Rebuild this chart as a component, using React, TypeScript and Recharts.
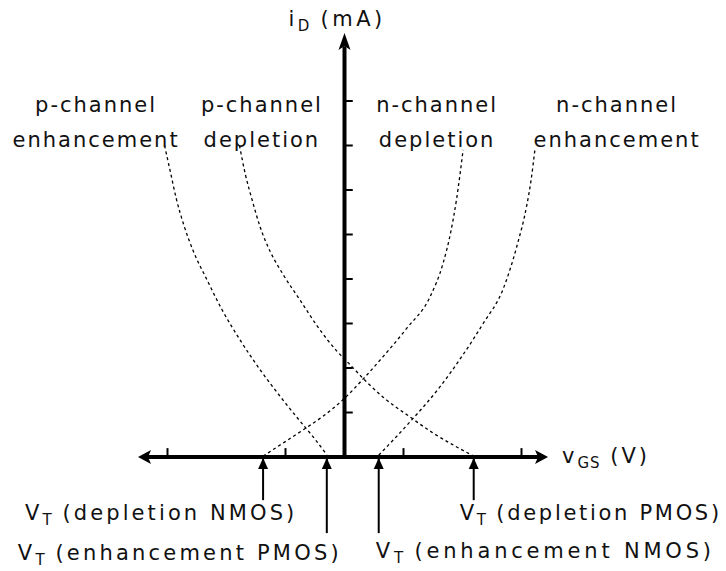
import React from 'react';
import { ComposedChart, Line, XAxis, YAxis, ReferenceLine, ReferenceDot } from 'recharts';

// ---------- data (vGS in V, iD in mA) ----------
const pEnhVgs = [-3.05, -2.95, -2.85, -2.72, -2.57, -2.33, -2.08, -1.77, -1.43, -1.09, -0.75, -0.5, -0.3];
const pEnhId = [7.0, 6.4, 5.8, 5.2, 4.65, 3.98, 3.32, 2.63, 1.96, 1.36, 0.8, 0.4, 0.05];

const pDepVgs = [-1.78, -1.68, -1.56, -1.43, -1.26, -1.04, -0.75, -0.45, -0.13, 0.09, 0.38, 0.65, 1.11, 1.5, 1.91, 2.19];
const pDepId = [7.0, 6.35, 5.75, 5.17, 4.62, 4.1, 3.52, 2.92, 2.38, 2.08, 1.68, 1.35, 0.9, 0.54, 0.22, 0.02];

const nDepVgs = [-1.38, -1.01, -0.7, -0.36, 0.01, 0.3, 0.65, 1.06, 1.45, 1.67, 1.8, 1.9, 2.01];
const nDepId = [0.02, 0.34, 0.61, 0.92, 1.33, 1.73, 2.25, 2.9, 3.6, 4.35, 5.05, 5.8, 6.9];

const nEnhVgs = [0.58, 1.11, 1.62, 2.01, 2.35, 2.69, 2.92, 3.09, 3.16, 3.23];
const nEnhId = [0.04, 0.79, 1.58, 2.3, 3.0, 3.78, 4.73, 5.66, 6.2, 6.94];

const curveNames = ['p-channel enhancement', 'p-channel depletion', 'n-channel depletion', 'n-channel enhancement'];
const curveLabelLines = [
  ['p-channel', 'enhancement'],
  ['p-channel', 'depletion'],
  ['n-channel', 'depletion'],
  ['n-channel', 'enhancement'],
];

const xTicks = [-3, -1, 1, 3];
const yTicks = [1, 2, 3, 4, 5, 6, 7, 8];

const vtValues = [-1.38, -0.3, 0.58, 2.19];
const vtLabels = ['(depletion NMOS)', '(enhancement PMOS)', '(enhancement NMOS)', '(depletion PMOS)'];

const xAxisTitle = ['v', 'GS', ' (V)'];
const yAxisTitle = ['i', 'D', ' (mA)'];

// ---------- layout ----------
const W = 726;
const H = 571;
const ORIGIN = { x: 344.5, y: 457 };
const UNIT = { x: 59, y: 44.5 };
const X_DOMAIN = [-ORIGIN.x / UNIT.x, (W - ORIGIN.x) / UNIT.x];
const Y_DOMAIN = [-(H - ORIGIN.y) / UNIT.y, ORIGIN.y / UNIT.y];

const AXIS_LEFT = -3.5;
const AXIS_RIGHT = 3.45;
const AXIS_TOP = 9.53;

const curveLabelPos = [
  { x: -4.21, y: 7.75 },
  { x: -1.4, y: 7.75 },
  { x: 1.57, y: 7.75 },
  { x: 4.62, y: 7.75 },
];
// VT arrow: line depth (data units), label offset (px), letter spacing
const vtLayout = [
  { depth: -0.97, dx: -238, dy: 63, ls: 3.1 },
  { depth: -1.71, dx: -309, dy: 103, ls: 3.2 },
  { depth: -1.71, dx: -3, dy: 101, ls: 3.8 },
  { depth: -0.97, dx: -14, dy: 63, ls: 2.7 },
];

const FONT = {
  fontFamily: '"DejaVu Sans", sans-serif',
  fontSize: 21,
  letterSpacing: 2,
  fill: '#111',
};

const toPoints = (xs: number[], ys: number[]) =>
  xs.map((x, i) => ({ x, y: ys[i] })).sort((a, b) => a.x - b.x);

const curves = [
  toPoints(pEnhVgs, pEnhId),
  toPoints(pDepVgs, pDepId),
  toPoints(nDepVgs, nDepId),
  toPoints(nEnhVgs, nEnhId),
];

const multiLineText = (lines: string[]) => (p: any) => (
  <text x={p.cx} y={p.cy} textAnchor="middle" {...FONT}>
    {lines.map((l, i) => (
      <tspan key={i} x={p.cx} dy={i === 0 ? 0 : 35}>
        {l}
      </tspan>
    ))}
  </text>
);

const subText = (parts: string[], dx: number, dy: number, ls: number) => (p: any) => (
  <text x={p.cx + dx} y={p.cy + dy} textAnchor="start" {...FONT} letterSpacing={ls}>
    <tspan>{parts[0]}</tspan>
    <tspan dy={5} fontSize={15} letterSpacing={1}>
      {parts[1]}
    </tspan>
    <tspan dy={-5}>{parts[2]}</tspan>
  </text>
);

const upHead = (p: any) => (
  <polygon
    points={`${p.cx},${p.cy + 1} ${p.cx - 5},${p.cy + 12} ${p.cx + 5},${p.cy + 12}`}
    fill="#000"
  />
);
const leftHead = (p: any) => (
  <polygon points={`${p.cx},${p.cy} ${p.cx + 13},${p.cy - 7} ${p.cx + 10},${p.cy} ${p.cx + 13},${p.cy + 7}`} fill="#000" />
);
const rightHead = (p: any) => (
  <polygon points={`${p.cx},${p.cy} ${p.cx - 13},${p.cy - 7} ${p.cx - 10},${p.cy} ${p.cx - 13},${p.cy + 7}`} fill="#000" />
);
const topHead = (p: any) => (
  <polygon points={`${p.cx},${p.cy} ${p.cx - 6},${p.cy + 17} ${p.cx},${p.cy + 13} ${p.cx + 6},${p.cy + 17}`} fill="#000" />
);

export default function App() {
  return (
    <div style={{ position: 'absolute', left: 0, top: 0, width: W, height: H, background: '#fff' }}>
      <ComposedChart width={W} height={H} margin={{ top: 0, right: 0, bottom: 0, left: 0 }}>
        <XAxis hide type="number" dataKey="x" domain={X_DOMAIN} allowDataOverflow />
        <YAxis hide type="number" dataKey="y" domain={Y_DOMAIN} allowDataOverflow />

        {curves.map((data, i) => (
          <Line
            key={curveNames[i]}
            name={curveNames[i]}
            data={data}
            dataKey="y"
            type="monotone"
            stroke="#000"
            strokeWidth={1.3}
            strokeDasharray="3 3"
            dot={false}
            activeDot={false}
            isAnimationActive={false}
          />
        ))}

        {/* axes */}
        <ReferenceLine
          segment={[{ x: AXIS_LEFT + 0.15, y: 0 }, { x: AXIS_RIGHT - 0.15, y: 0 }]}
          stroke="#000"
          strokeWidth={4}
          ifOverflow="visible"
        />
        <ReferenceLine
          segment={[{ x: 0, y: 0 }, { x: 0, y: AXIS_TOP - 0.3 }]}
          stroke="#000"
          strokeWidth={4}
          ifOverflow="visible"
        />
        {xTicks.map((t) => (
          <ReferenceLine
            key={`xt${t}`}
            segment={[{ x: t, y: 0 }, { x: t, y: 0.2 }]}
            stroke="#000"
            strokeWidth={2}
            ifOverflow="visible"
          />
        ))}
        {yTicks.map((t) => (
          <ReferenceLine
            key={`yt${t}`}
            segment={[{ x: 0, y: t }, { x: 0.14, y: t }]}
            stroke="#000"
            strokeWidth={2}
            ifOverflow="visible"
          />
        ))}
        <ReferenceDot x={AXIS_LEFT} y={0} r={0} shape={leftHead} ifOverflow="visible" />
        <ReferenceDot x={AXIS_RIGHT} y={0} r={0} shape={rightHead} ifOverflow="visible" />
        <ReferenceDot x={0} y={AXIS_TOP} r={0} shape={topHead} ifOverflow="visible" />

        {/* axis titles */}
        <ReferenceDot x={AXIS_RIGHT} y={0} r={0} shape={subText(xAxisTitle, 14, 6, 3)} ifOverflow="visible" />
        <ReferenceDot x={0} y={AXIS_TOP} r={0} shape={subText(yAxisTitle, -56, -7, 3.5)} ifOverflow="visible" />

        {/* VT arrows */}
        {vtValues.map((v, i) => (
          <ReferenceLine
            key={`vtl${i}`}
            segment={[{ x: v, y: 0 }, { x: v, y: vtLayout[i].depth }]}
            stroke="#000"
            strokeWidth={2}
            ifOverflow="visible"
          />
        ))}
        {vtValues.map((v, i) => (
          <ReferenceDot key={`vth${i}`} x={v} y={0} r={0} shape={upHead} ifOverflow="visible" />
        ))}
        {vtValues.map((v, i) => (
          <ReferenceDot
            key={`vtt${i}`}
            x={v}
            y={0}
            r={0}
            shape={subText(['V', 'T', ' ' + vtLabels[i]], vtLayout[i].dx, vtLayout[i].dy, vtLayout[i].ls)}
            ifOverflow="visible"
          />
        ))}

        {/* curve labels */}
        {curveLabelLines.map((lines, i) => (
          <ReferenceDot
            key={`cl${i}`}
            x={curveLabelPos[i].x}
            y={curveLabelPos[i].y}
            r={0}
            shape={multiLineText(lines)}
            ifOverflow="visible"
          />
        ))}
      </ComposedChart>
    </div>
  );
}
